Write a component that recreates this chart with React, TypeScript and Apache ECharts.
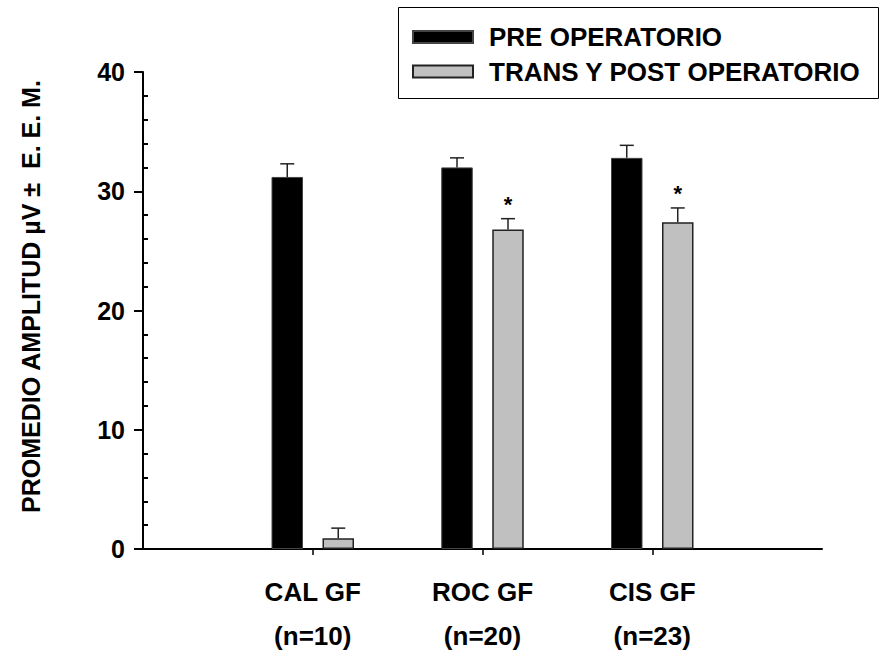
import React, { useEffect, useRef } from "react";
import * as echarts from "echarts";

const categories = ["CAL GF", "ROC GF", "CIS GF"];
const groupSizes = ["(n=10)", "(n=20)", "(n=23)"];
const preValues = [31.2, 32.0, 32.8];
const preErrors = [1.1, 0.8, 1.05];
const postValues = [0.9, 26.8, 27.4];
const postErrors = [0.85, 0.9, 1.2];
const postSignificance = ["", "*", "*"];
const seriesNames = ["PRE OPERATORIO", "TRANS Y POST OPERATORIO"];
const yTicks = [0, 10, 20, 30, 40];

const FONT = "'Liberation Sans', Arial, sans-serif";
const BAR_W = 31.5;
const BAR_GAP_PX = 19.5;

export default function App() {
  const ref = useRef<HTMLDivElement>(null);

  useEffect(() => {
    if (!ref.current) return;
    const chart = echarts.init(ref.current, null, { renderer: "svg" });

    const axisCats = ["", ...categories, ""];
    const nMap: Record<string, string> = {};
    categories.forEach((c, i) => (nMap[c] = groupSizes[i]));
    const pad = (arr: number[]) => ["-", ...arr, "-"];
    const offset = (BAR_W + BAR_GAP_PX) / 2;

    const makeErr = (vals: number[], errs: number[], sign: number, marks: string[]) => ({
      type: "custom",
      z: 5,
      silent: true,
      renderItem: (params: any, api: any) => {
        const i = params.dataIndex;
        const x = api.value(0);
        const v = api.value(1);
        const e = api.value(2);
        const base = api.coord([x, v]);
        const top = api.coord([x, v + e]);
        const cx = base[0] + sign * offset;
        const children: any[] = [
          { type: "line", shape: { x1: cx, y1: base[1], x2: cx, y2: top[1] }, style: { stroke: "#222", lineWidth: 1.5 } },
          { type: "line", shape: { x1: cx - 7, y1: top[1], x2: cx + 7, y2: top[1] }, style: { stroke: "#222", lineWidth: 1.5 } },
        ];
        if (marks[i]) {
          children.push({
            type: "text",
            x: cx,
            y: top[1] - 14,
            style: { text: marks[i], fontSize: 22, fontWeight: "bold", fontFamily: FONT, align: "center", verticalAlign: "middle", fill: "#000" },
          });
        }
        return { type: "group", children };
      },
      data: vals.map((v, i) => [i + 1, v, errs[i]]),
    });

    chart.setOption({
      animation: false,
      backgroundColor: "#fff",
      grid: { left: 143, right: 59, top: 72, bottom: 101, containLabel: false },
      graphic: [
        {
          type: "rect",
          shape: { x: 398.5, y: 7.5, width: 480, height: 91 },
          style: { fill: "none", stroke: "#000", lineWidth: 1 },
          z: 10,
        },
      ],
      legend: {
        data: seriesNames,
        orient: "vertical",
        left: 412,
        top: 24,
        padding: 0,
        itemGap: 8.5,
        itemWidth: 60,
        itemHeight: 12,
        icon: "rect",
        textStyle: { fontSize: 26, fontWeight: "bold", fontFamily: FONT, color: "#000", lineHeight: 26, padding: [0, 0, 0, 11] },
      },
      xAxis: {
        type: "category",
        data: axisCats,
        boundaryGap: false,
        axisLine: { lineStyle: { color: "#000", width: 2 } },
        axisTick: { show: true, interval: (i: number) => i > 0 && i < axisCats.length - 1, length: 6, lineStyle: { color: "#000", width: 1.5 } },
        axisLabel: {
          interval: 0,
          margin: 21,
          fontSize: 26,
          fontWeight: "bold",
          fontFamily: FONT,
          color: "#000",
          lineHeight: 44,
          formatter: (v: string) => (v ? `${v}\n${nMap[v]}` : ""),
        },
        splitLine: { show: false },
      },
      yAxis: {
        type: "value",
        min: yTicks[0],
        max: yTicks[yTicks.length - 1],
        interval: 10,
        name: "PROMEDIO AMPLITUD µV ±  E. E. M.",
        nameLocation: "middle",
        nameGap: 100,
        nameTextStyle: { fontSize: 25, fontWeight: "bold", fontFamily: FONT, color: "#000", padding: [0, 0, 0, 28] },
        axisLine: { show: true, lineStyle: { color: "#000", width: 2 } },
        axisTick: { show: true, length: 9, lineStyle: { color: "#000", width: 2 } },
        minorTick: { show: true, splitNumber: 5, length: -5, lineStyle: { color: "#000", width: 2 } },
        axisLabel: { margin: 18, fontSize: 25, fontWeight: "bold", fontFamily: FONT, color: "#000" },
        splitLine: { show: false },
      },
      series: [
        {
          name: seriesNames[0],
          type: "bar",
          data: pad(preValues),
          barWidth: BAR_W,
          barGap: `${(BAR_GAP_PX / BAR_W) * 100}%`,
          itemStyle: { color: "#000", borderColor: "#444", borderWidth: 1 },
        },
        {
          name: seriesNames[1],
          type: "bar",
          data: pad(postValues),
          barWidth: BAR_W,
          itemStyle: { color: "#c0c0c0", borderColor: "#222", borderWidth: 1.5 },
        },
        makeErr(preValues, preErrors, -1, ["", "", ""]),
        makeErr(postValues, postErrors, 1, postSignificance),
      ],
    });

    return () => chart.dispose();
  }, []);

  return <div ref={ref} style={{ position: "fixed", left: 0, top: 0, width: 881, height: 658 }} />;
}
